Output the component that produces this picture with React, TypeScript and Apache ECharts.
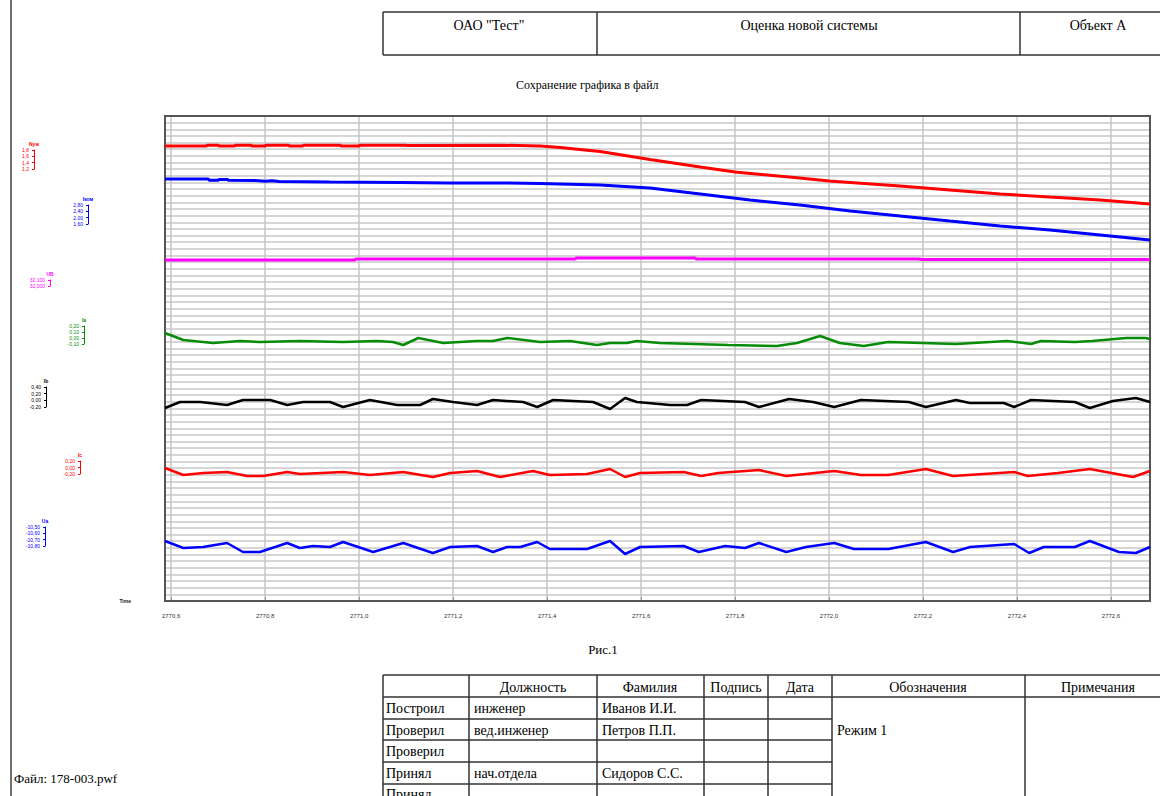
import React, { useEffect, useRef } from "react";
import * as echarts from "echarts";

// ---------- X axis ----------
const X_MIN = 2770.587;
const X_MAX = 2772.683;
const X_TICKS = [2770.6, 2770.8, 2771.0, 2771.2, 2771.4, 2771.6, 2771.8, 2772.0, 2772.2, 2772.4, 2772.6];

// ---------- Channels ----------
const CHANNEL_NAMES = ["Nуж", "Iком", "UB", "Ia", "Ib", "Ic", "Ua"];
const CHANNEL_COLORS = ["#ff0000", "#0000ff", "#ff00ff", "#078c07", "#000000", "#ff0000", "#0000ff"];

const nuzh = [
  [2770.587, 1.600], [2770.675, 1.600], [2770.677, 1.604], [2770.700, 1.604], [2770.702, 1.600],
  [2770.735, 1.600], [2770.737, 1.604], [2770.770, 1.604], [2770.772, 1.600], [2770.800, 1.600],
  [2770.802, 1.604], [2770.850, 1.604], [2770.852, 1.600], [2770.880, 1.600], [2770.882, 1.604],
  [2770.960, 1.604], [2770.962, 1.600], [2771.000, 1.600], [2771.002, 1.604], [2771.100, 1.604],
  [2771.102, 1.602], [2771.300, 1.604], [2771.385, 1.600], [2771.428, 1.592], [2771.513, 1.572],
  [2771.619, 1.532], [2771.726, 1.495], [2771.800, 1.470], [2771.938, 1.440], [2772.000, 1.425],
  [2772.151, 1.400], [2772.257, 1.380], [2772.364, 1.360], [2772.470, 1.345], [2772.577, 1.330],
  [2772.683, 1.310],
];

const ikom = [
  [2770.587, 2.370], [2770.679, 2.370], [2770.681, 2.358], [2770.700, 2.358], [2770.702, 2.365],
  [2770.720, 2.365], [2770.722, 2.358], [2770.780, 2.355], [2770.800, 2.348], [2770.815, 2.352],
  [2770.830, 2.345], [2770.938, 2.340], [2771.087, 2.335], [2771.194, 2.330], [2771.300, 2.330],
  [2771.385, 2.325], [2771.513, 2.310], [2771.619, 2.280], [2771.726, 2.220], [2771.832, 2.160],
  [2771.938, 2.110], [2772.045, 2.050], [2772.151, 2.000], [2772.257, 1.950], [2772.364, 1.900],
  [2772.470, 1.860], [2772.577, 1.810], [2772.683, 1.760],
];

const ub = [
  [2770.587, 32.050], [2770.991, 32.050], [2770.993, 32.055], [2771.460, 32.055], [2771.462, 32.060],
  [2771.715, 32.060], [2771.717, 32.055], [2772.194, 32.055], [2772.196, 32.052], [2772.683, 32.052],
];

const ia = [
  [2770.587, 0.08], [2770.626, 0.01], [2770.689, -0.02], [2770.747, 0.00], [2770.789, -0.01],
  [2770.874, 0.00], [2770.966, -0.01], [2771.038, 0.00], [2771.072, -0.01], [2771.094, -0.04],
  [2771.126, 0.03], [2771.179, -0.02], [2771.251, 0.00], [2771.285, 0.00], [2771.315, 0.03],
  [2771.385, -0.01], [2771.449, 0.00], [2771.506, -0.04], [2771.534, -0.02], [2771.570, -0.02],
  [2771.591, 0.00], [2771.640, -0.02], [2771.785, -0.04], [2771.889, -0.05], [2771.932, -0.02],
  [2771.981, 0.05], [2772.023, -0.02], [2772.074, -0.05], [2772.126, -0.01], [2772.198, -0.02],
  [2772.270, -0.03], [2772.379, 0.00], [2772.430, -0.03], [2772.451, 0.00], [2772.523, -0.01],
  [2772.560, 0.00], [2772.632, 0.03], [2772.674, 0.03], [2772.683, 0.02],
];

const ib = [
  [2770.587, -0.06], [2770.619, 0.00], [2770.662, 0.00], [2770.719, -0.03], [2770.753, 0.02],
  [2770.811, 0.02], [2770.847, -0.03], [2770.881, 0.00], [2770.938, 0.00], [2770.966, -0.05],
  [2771.023, 0.02], [2771.081, -0.03], [2771.130, -0.03], [2771.157, 0.03], [2771.200, 0.00],
  [2771.251, -0.03], [2771.285, 0.02], [2771.349, 0.00], [2771.379, -0.05], [2771.413, 0.02],
  [2771.498, 0.00], [2771.534, -0.07], [2771.566, 0.04], [2771.591, 0.00], [2771.662, -0.03],
  [2771.698, -0.03], [2771.728, 0.02], [2771.821, 0.00], [2771.851, -0.05], [2771.915, 0.03],
  [2771.966, 0.00], [2772.011, -0.05], [2772.068, 0.02], [2772.170, 0.00], [2772.206, -0.05],
  [2772.270, 0.02], [2772.300, -0.01], [2772.372, -0.01], [2772.394, -0.05], [2772.430, 0.02],
  [2772.523, 0.00], [2772.555, -0.06], [2772.604, 0.01], [2772.653, 0.04], [2772.683, 0.00],
];

const ic = [
  [2770.587, 0.05], [2770.626, -0.02], [2770.668, 0.00], [2770.719, 0.01], [2770.762, -0.03],
  [2770.796, -0.03], [2770.847, 0.01], [2770.874, -0.01], [2770.966, 0.01], [2771.023, -0.02],
  [2771.094, 0.01], [2771.157, -0.04], [2771.194, 0.00], [2771.251, 0.02], [2771.300, -0.04],
  [2771.370, 0.02], [2771.406, -0.02], [2771.485, -0.01], [2771.534, 0.04], [2771.566, -0.04],
  [2771.598, 0.00], [2771.691, 0.01], [2771.728, -0.03], [2771.764, 0.00], [2771.851, 0.03],
  [2771.909, -0.03], [2772.011, 0.02], [2772.068, -0.02], [2772.126, -0.02], [2772.206, 0.04],
  [2772.264, -0.03], [2772.394, 0.01], [2772.423, -0.03], [2772.487, 0.00], [2772.555, 0.04],
  [2772.647, -0.04], [2772.683, 0.02],
];

const ua = [
  [2770.587, -10.59], [2770.626, -10.66], [2770.668, -10.65], [2770.719, -10.61], [2770.753, -10.70],
  [2770.789, -10.70], [2770.847, -10.61], [2770.874, -10.66], [2770.902, -10.64], [2770.938, -10.65],
  [2770.966, -10.60], [2771.030, -10.70], [2771.094, -10.61], [2771.157, -10.71], [2771.194, -10.65],
  [2771.251, -10.64], [2771.285, -10.70], [2771.315, -10.65], [2771.343, -10.65], [2771.379, -10.60],
  [2771.406, -10.67], [2771.485, -10.67], [2771.534, -10.59], [2771.566, -10.72], [2771.598, -10.65],
  [2771.691, -10.64], [2771.723, -10.70], [2771.779, -10.64], [2771.821, -10.66], [2771.851, -10.61],
  [2771.909, -10.70], [2771.951, -10.65], [2772.011, -10.61], [2772.053, -10.67], [2772.126, -10.67],
  [2772.206, -10.60], [2772.264, -10.70], [2772.300, -10.65], [2772.394, -10.62], [2772.426, -10.71],
  [2772.457, -10.65], [2772.523, -10.65], [2772.555, -10.59], [2772.617, -10.70], [2772.653, -10.71],
  [2772.683, -10.65],
];

const CHANNEL_DATA = [nuzh, ikom, ub, ia, ib, ic, ua];
// value range of each channel's (hidden) axis in the main plot
const CHANNEL_MIN = [-0.675, -1.85, 30.345, -2.6, -1.99, -1.28, -11.19];
const CHANNEL_MAX = [1.75, 3.0, 32.77, 2.25, 2.86, 3.57, -6.34];

// scale indicator values for each channel (left small scales)
const SCALE_VALUES = [
  [1.2, 1.4, 1.6, 1.8],
  [1.6, 2.0, 2.4, 2.8],
  [32.0, 32.1],
  [-0.1, 0.0, 0.1, 0.2],
  [-0.2, 0.0, 0.2, 0.4],
  [-0.2, 0.0, 0.2],
  [-10.8, -10.7, -10.6, -10.5],
];
const SCALE_DECIMALS = [1, 2, 3, 2, 2, 2, 2];

// layout of small scales (x of bracket, top, height)
const SCALE_LAYOUT = [
  { x: 34, top: 150, h: 19 },
  { x: 88, top: 205, h: 19 },
  { x: 50, top: 280, h: 6 },
  { x: 84, top: 326, h: 18 },
  { x: 46, top: 387, h: 20 },
  { x: 80, top: 461, h: 13 },
  { x: 45, top: 527, h: 19 },
];
const LINE_WIDTHS = [3, 3, 3, 2.5, 2.5, 2.5, 2.5];

// ---------- Texts ----------
const TITLE = "Сохранение графика в файл";
const FIG_CAPTION = "Рис.1";
const FILE_LABEL = "Файл: 178-003.pwf";
const HEADER_CELLS = ['ОАО "Тест"', "Оценка новой системы", "Объект А"];
const TABLE_HEAD = ["", "Должность", "Фамилия", "Подпись", "Дата", "Обозначения", "Примечания"];
const ROW_ROLES = ["Построил", "Проверил", "Проверил", "Принял", "Принял"];
const ROW_POSTS = ["инженер", "вед.инженер", "", "нач.отдела", ""];
const ROW_NAMES = ["Иванов И.И.", "Петров П.П.", "", "Сидоров С.С.", ""];
const MODE_TEXT = "Режим 1";

const SERIF = "'Liberation Serif', 'Times New Roman', serif";

function txt(text: string, x: number, y: number, align = "center", size = 14) {
  return {
    type: "text",
    silent: true,
    style: {
      text, x, y, fill: "#000",
      font: `${size}px ${SERIF}`,
      textAlign: align, align,
      textVerticalAlign: "middle", verticalAlign: "middle",
    },
  };
}
function ln(x1: number, y1: number, x2: number, y2: number, color = "#333", w = 1.5) {
  return { type: "line", silent: true, shape: { x1, y1, x2, y2 }, style: { stroke: color, lineWidth: w } };
}

function buildGraphics() {
  const g: any[] = [];
  // page border left
  g.push(ln(11, 0, 11, 796, "#707070", 2));
  // top table
  const topCols = [383, 597, 1020];
  const topCenters = [489, 809, 1098];
  g.push(ln(383, 12, 1160, 12));
  g.push(ln(383, 55, 1160, 55));
  topCols.forEach((x) => g.push(ln(x, 12, x, 55)));
  HEADER_CELLS.forEach((t, i) => g.push(txt(t, topCenters[i], 25)));
  // captions
  g.push(txt(FIG_CAPTION, 603, 649, "center", 13));
  g.push(txt(FILE_LABEL, 14, 778, "left", 13));
  // bottom table
  const colX = [383, 469, 597, 704, 768, 832, 1025];
  const headCenters = [426, 533, 650, 736, 800, 928, 1098];
  const rowY = [697, 719, 740, 762, 784];
  g.push(ln(383, 675, 1160, 675));
  g.push(ln(383, 697, 1160, 697));
  rowY.slice(1).forEach((y) => g.push(ln(383, y, 832, y)));
  colX.forEach((x) => g.push(ln(x, 675, x, 796)));
  TABLE_HEAD.forEach((t, i) => { if (t) g.push(txt(t, headCenters[i], 687)); });
  const rowCenters = [708, 730, 751, 773, 794];
  ROW_ROLES.forEach((t, i) => g.push(txt(t, 386, rowCenters[i], "left")));
  ROW_POSTS.forEach((t, i) => { if (t) g.push(txt(t, 474, rowCenters[i], "left")); });
  ROW_NAMES.forEach((t, i) => { if (t) g.push(txt(t, 602, rowCenters[i], "left")); });
  g.push(txt(MODE_TEXT, 837, 730, "left"));
  return g;
}

const fmtComma = (v: number, d: number) => v.toFixed(d).replace(".", ",");

function buildOption() {
  const grids: any[] = [{ left: 165, top: 116, width: 985, height: 485, show: true, borderColor: "#555", borderWidth: 2, z: 3 }];
  const xAxes: any[] = [
    {
      type: "value", gridIndex: 0, min: X_MIN, max: X_MAX, offset: 7,
      name: "Time", nameLocation: "start", nameGap: 34,
      nameTextStyle: { fontSize: 5, fontWeight: "bold", color: "#222", verticalAlign: "middle" },
      axisLine: { show: true, lineStyle: { color: "#a8a8a8", width: 1 } },
      axisTick: { show: true, inside: true, length: 4, customValues: X_TICKS, lineStyle: { color: "#999" } },
      axisLabel: { show: true, fontSize: 6, color: "#333", margin: 5, customValues: X_TICKS, formatter: (v: number) => fmtComma(v, 1) },
      splitLine: { show: true, lineStyle: { color: "#c4c4c4", width: 1.5 } },
    },
  ];
  const yAxes: any[] = [
    {
      type: "value", gridIndex: 0, min: 0, max: 73, interval: 1,
      axisLine: { show: false }, axisTick: { show: false }, axisLabel: { show: false },
      splitLine: { show: true, lineStyle: { color: "#c8c8c8", width: 1.5 } },
    },
  ];
  CHANNEL_NAMES.forEach((_, i) => {
    yAxes.push({ type: "value", gridIndex: 0, min: CHANNEL_MIN[i], max: CHANNEL_MAX[i], show: false, splitLine: { show: false } });
  });
  const series: any[] = CHANNEL_DATA.map((d, i) => ({
    type: "line", name: CHANNEL_NAMES[i], data: d, xAxisIndex: 0, yAxisIndex: i + 1,
    showSymbol: false, symbol: "none", clip: true, z: 5,
    lineStyle: { color: CHANNEL_COLORS[i], width: LINE_WIDTHS[i] },
    itemStyle: { color: CHANNEL_COLORS[i] },
  }));
  // small scales
  SCALE_VALUES.forEach((vals, i) => {
    const L = SCALE_LAYOUT[i];
    const gi = grids.length;
    grids.push({ left: L.x, top: L.top, width: 4, height: L.h, show: false });
    xAxes.push({ type: "value", gridIndex: gi, show: false, min: 0, max: 1 });
    const c = CHANNEL_COLORS[i];
    yAxes.push({
      type: "value", gridIndex: gi, position: "left",
      min: vals[0], max: vals[vals.length - 1], interval: Math.round((vals[1] - vals[0]) * 1000) / 1000,
      name: CHANNEL_NAMES[i], nameLocation: "end", nameGap: 4,
      nameTextStyle: { fontSize: 5, fontWeight: "bold", color: c },
      axisLine: { show: true, lineStyle: { color: c, width: 1 } },
      axisTick: { show: true, length: 2, lineStyle: { color: c, width: 1 } },
      axisLabel: { show: true, fontSize: 5, color: c, margin: 5, formatter: (v: number) => fmtComma(v, SCALE_DECIMALS[i]) },
      splitLine: { show: false },
    });
  });
  return {
    animation: false,
    backgroundColor: "#fff",
    title: { text: TITLE, left: 516, top: 79, textStyle: { fontFamily: SERIF, fontSize: 12, fontWeight: "normal", color: "#000" }, padding: 0 },
    grid: grids,
    xAxis: xAxes,
    yAxis: yAxes,
    series,
    graphic: { elements: buildGraphics() },
  };
}

export default function App() {
  const ref = useRef<HTMLDivElement>(null);
  useEffect(() => {
    const chart = echarts.init(ref.current!, null, { renderer: "svg" });
    chart.setOption(buildOption() as any);
    return () => chart.dispose();
  }, []);
  return (
    <div
      ref={ref}
      style={{ position: "absolute", left: 0, top: 0, width: 1160, height: 796, background: "#fff" }}
    />
  );
}
